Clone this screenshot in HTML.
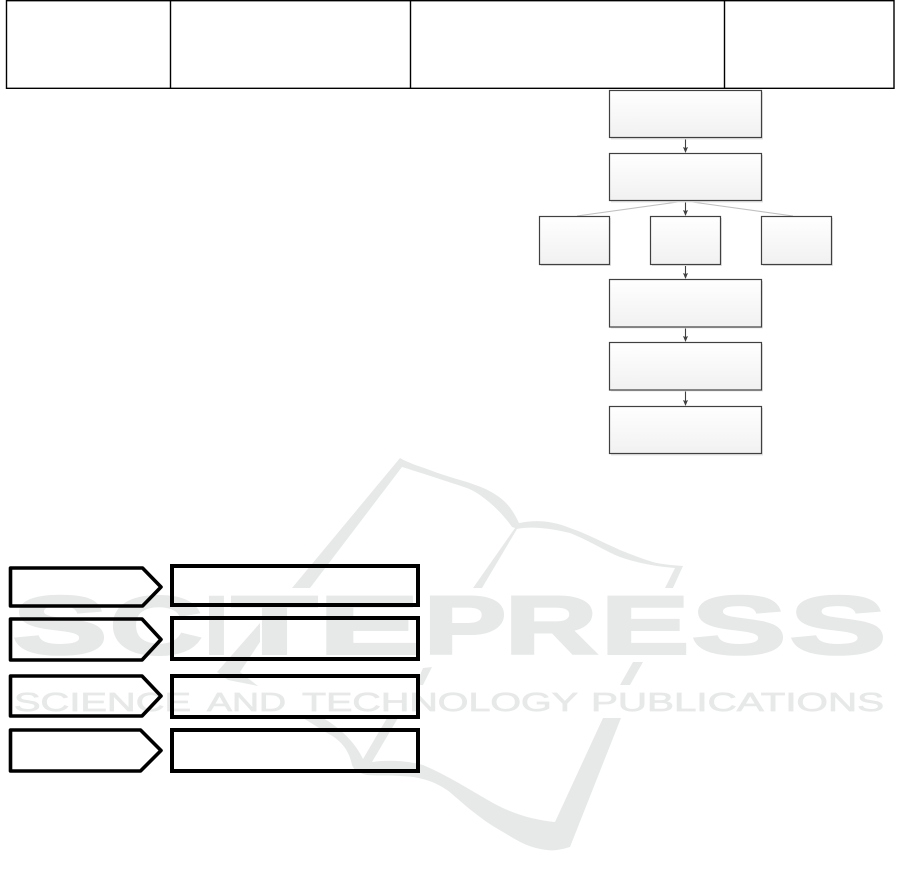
<!DOCTYPE html>
<html>
<head>
<meta charset="utf-8">
<style>
html,body{margin:0;padding:0;background:#fff;width:901px;height:886px;overflow:hidden}
svg{display:block}
</style>
</head>
<body>
<svg width="901" height="886" viewBox="0 0 901 886" xmlns="http://www.w3.org/2000/svg">
<defs>
<linearGradient id="g" x1="0" y1="0" x2="0" y2="1"><stop offset="0" stop-color="#ffffff"/><stop offset="1" stop-color="#f1f1f1"/></linearGradient>
</defs>

<!-- watermark book -->
<g fill="#e7e9e8" stroke="none">
<path d="M400,458 L292,588 L310,588 L402,467 C415,471 440,479 467,488 C482,494 500,510 512,527 L515,528 L473,588 L482,588 L517,529 C530,526 550,528 570,533 C590,541 605,551 620,557 C640,564 660,567 675,568 L665,588 L673,588 L683,566 C670,565 660,564 653,562 C640,558 630,554 620,550 C600,541 585,533 570,528 C550,520 535,520 519,523 C512,508 505,500 493,493 C485,488 478,486 467,482 C450,477 440,474 427,469 C415,465 407,462 400,458 Z"/>
<path d="M260,623 L217,672 L228,680 L258,686 L240,672 L260,642 Z"/>
<path d="M633,662 L643,662 L630,685 L620,685 Z"/>
<path d="M423,668 L432,667 L423,685 L416,685 Z"/>
<path d="M447,638 L444,653 L438,653 Z"/>
<path d="M303,718 L323,718 C340,728 355,742 363,759 L387,718 L398,718 L372,762 C385,760 405,760 423,765 C447,775 470,790 493,803 C515,815 535,820 555,822 L603,718 L621,718 L570,847 C560,850 553,851 547,850 C530,848 520,842 513,838 C500,830 490,825 480,817 C465,806 455,796 447,790 C435,782 425,779 413,777 C395,775 380,776 367,775 C358,773 354,770 352,765 C350,755 345,742 327,733 Z"/>
</g>
<!-- watermark wordmark -->
<g fill="#e7e9e8" stroke="#e7e9e8" stroke-width="3" font-family="'Liberation Sans',sans-serif" font-weight="bold" font-size="82">
<text x="13" y="653.5" textLength="94" lengthAdjust="spacingAndGlyphs">S</text>
<text x="110" y="653.5" textLength="92" lengthAdjust="spacingAndGlyphs">C</text>
<text x="205" y="653.5" textLength="23" lengthAdjust="spacingAndGlyphs">I</text>
<text x="232" y="653.5" textLength="85" lengthAdjust="spacingAndGlyphs">T</text>
<text x="319" y="653.5" textLength="100" lengthAdjust="spacingAndGlyphs">E</text>
<text x="424" y="653.5" textLength="82" lengthAdjust="spacingAndGlyphs">P</text>
<text x="505" y="653.5" textLength="92" lengthAdjust="spacingAndGlyphs">R</text>
<text x="601" y="653.5" textLength="88" lengthAdjust="spacingAndGlyphs">E</text>
<text x="692" y="653.5" textLength="94" lengthAdjust="spacingAndGlyphs">S</text>
<text x="790" y="653.5" textLength="96" lengthAdjust="spacingAndGlyphs">S</text>
</g>
<g fill="#e7e9e8" stroke="#e7e9e8" stroke-width="0.7" font-family="'Liberation Sans',sans-serif" font-size="26">
<text x="14" y="711" textLength="177" lengthAdjust="spacingAndGlyphs">SCIENCE</text>
<text x="207" y="711" textLength="79" lengthAdjust="spacingAndGlyphs">AND</text>
<text x="302" y="711" textLength="276" lengthAdjust="spacingAndGlyphs">TECHNOLOGY</text>
<text x="591" y="711" textLength="293" lengthAdjust="spacingAndGlyphs">PUBLICATIONS</text>
</g>

<!-- top table -->
<g stroke="#000" stroke-width="1.4" fill="none">
<path d="M6,0.7 H894 M6,88.3 H894 M6.5,0 V89 M170.5,0 V89 M410.5,0 V89 M724.5,0 V89 M894,0 V89"/>
</g>

<!-- flow chart connectors -->
<g stroke="#c0c0c0" stroke-width="1.1" fill="none">
<path d="M685,201 L577,216 M685,201 L793,216"/>
</g>
<g stroke="#404040" stroke-width="1.1" fill="none">
<path d="M685.5,138 V150 M685.5,201 V214 M685.5,263 V277 M685.5,327 V340 M685.5,390 V404"/>
</g>
<g fill="#404040">
<path d="M683,147 L685.5,148 L688,147 L685.5,153 Z"/>
<path d="M683,210 L685.5,211 L688,210 L685.5,216 Z"/>
<path d="M683,273 L685.5,274 L688,273 L685.5,279 Z"/>
<path d="M683,336 L685.5,337 L688,336 L685.5,342 Z"/>
<path d="M683,400 L685.5,401 L688,400 L685.5,406 Z"/>
</g>

<!-- flow chart nodes: shadows -->
<g fill="#e4e4e4">
<rect x="611" y="92" width="152" height="47.5"/>
<rect x="611" y="155" width="152" height="47.5"/>
<rect x="541" y="218" width="70" height="48"/>
<rect x="652" y="218" width="70" height="48"/>
<rect x="763" y="218" width="70" height="48"/>
<rect x="611" y="281" width="152" height="47.5"/>
<rect x="611" y="344" width="152" height="47.5"/>
<rect x="611" y="408" width="152" height="47.5"/>
</g>
<g fill="url(#g)" stroke="#404040" stroke-width="1.2">
<rect x="609.5" y="90.5" width="152" height="47"/>
<rect x="609.5" y="153.5" width="152" height="47"/>
<rect x="539.5" y="216.5" width="70" height="48"/>
<rect x="650.5" y="216.5" width="70" height="48"/>
<rect x="761.5" y="216.5" width="70" height="48"/>
<rect x="609.5" y="279.5" width="152" height="47.5"/>
<rect x="609.5" y="342.5" width="152" height="47.5"/>
<rect x="609.5" y="406.5" width="152" height="47"/>
</g>

<!-- lower left pentagons and rectangles -->
<g fill="none" stroke="#000" stroke-width="3.6" stroke-linejoin="round">
<path d="M10.5,568 H142.5 L161,587 L142.5,606 H10.5 Z"/>
<path d="M10.5,619 H142 L161,639.5 L142,660 H10.5 Z"/>
<path d="M10.5,676 H142 L161,696 L142,716 H10.5 Z"/>
<path d="M10.5,730 H140.5 L161,750.5 L140.5,771 H10.5 Z"/>
</g>
<g fill="none" stroke="#000" stroke-width="4">
<rect x="172" y="566" width="246" height="39"/>
<rect x="172" y="618" width="246" height="41"/>
<rect x="172" y="676" width="246" height="41"/>
<rect x="172" y="730" width="246" height="41"/>
</g>
</svg>
</body>
</html>
